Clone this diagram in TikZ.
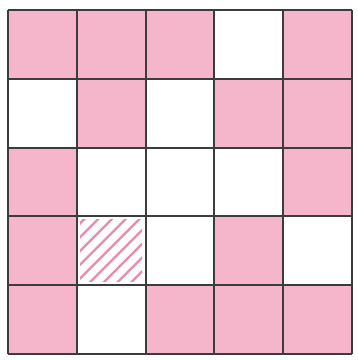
\documentclass[tikz,border=0pt]{standalone}
\usetikzlibrary{positioning}
\definecolor{cellpink}{RGB}{245,182,203}
\definecolor{hatchpink}{RGB}{232,140,170}
\definecolor{gridgray}{RGB}{60,60,60}

\begin{document}
\begin{tikzpicture}[
    x=1cm, y=-1cm,
    pinkcell/.style={fill=cellpink},
    gridline/.style={draw=gridgray, line width=0.8pt},
    hatchline/.style={draw=hatchpink, line width=1pt, line cap=round}
]
    \useasboundingbox (-0.116,-0.145) rectangle (5.087,5.088);
    % filled cells, row by row from the top
    \foreach \row [count=\r from 0] in {{1,1,1,0,1},{0,1,0,1,1},{1,0,0,0,1},{1,2,0,1,0},{1,0,1,1,1}}{
        \foreach \v [count=\c from 0] in \row {
            \ifnum\v=1
                \fill[pinkcell] (\c,\r) rectangle ++(1,1);
            \fi
        }
    }
    % hatched cell
    \begin{scope}
        \clip (1.05,3.05) rectangle (1.95,3.95);
        \foreach \k in {0.15,0.35,...,1.9}{
            \draw[hatchline] (1,3+\k) -- (1+\k,3);
        }
    \end{scope}
    % grid
    \draw[gridline] (0,0) grid (5,5);
\end{tikzpicture}
\end{document}
